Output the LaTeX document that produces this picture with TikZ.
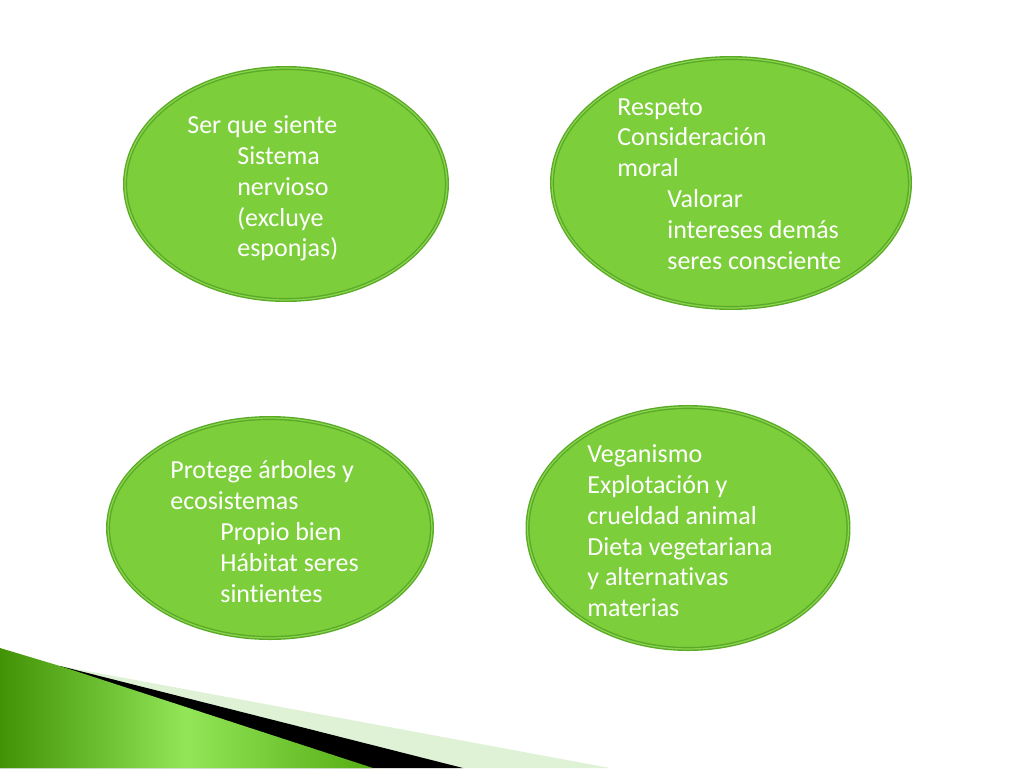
\documentclass[tikz,border=0pt]{standalone}
\usepackage{fontspec}
\setmainfont{Carlito}[Ligatures=NoCommon]
\usetikzlibrary{shapes.geometric}

\definecolor{leafgreen}{RGB}{124,206,58}
\definecolor{rimgreen}{RGB}{90,170,40}
\definecolor{rimlight}{RGB}{138,212,78}
\definecolor{palegreen}{RGB}{224,242,214}
\definecolor{banddark}{RGB}{66,146,6}
\definecolor{bandlight}{RGB}{146,230,88}
\definecolor{bandmid}{RGB}{84,172,18}

\begin{document}
\begin{tikzpicture}[x=0.02cm, y=-0.02cm,
	bubble/.style={ellipse, draw=rimgreen, line width=0.8pt, double=rimlight,
		double distance=0.7pt, fill=leafgreen, inner sep=0pt},
	notes/.style={anchor=north west, align=left, inner sep=0pt, text=white,
		font=\fontsize{14.8}{17.6}\selectfont}]

	\useasboundingbox[fill=white] (0,0) rectangle (1024,768);

	\coordinate (sentient_c) at (286,184);
	\coordinate (respect_c) at (731,183);
	\coordinate (nature_c) at (270,528);
	\coordinate (vegan_c) at (688,528);

	\def\indentStep{1cm}

	% Bottom band
	\fill[palegreen] (60,666) -- (610,768) -- (0,768) -- cycle;
	\fill[black] (60,666) -- (463,768) -- (0,768) -- cycle;
	\shade[left color=banddark, right color=bandmid, middle color=bandlight]
		(0,648) -- (60,666) -- (373,768) -- (0,768) -- cycle;

	% Ellipses
	\node[bubble, minimum width=6.44cm, minimum height=4.64cm] (sentient) at (sentient_c) {};
	\node[bubble, minimum width=7.16cm, minimum height=5.00cm] (respect) at (respect_c) {};
	\node[bubble, minimum width=6.48cm, minimum height=4.40cm] (nature) at (nature_c) {};
	\node[bubble, minimum width=6.42cm, minimum height=4.84cm] (vegan) at (vegan_c) {};

	% Texts
	\node[notes] (sentient_text) at (187,115)
		{Ser que siente\\ \hspace*{\indentStep}Sistema\\ \hspace*{\indentStep}nervioso\\
		\hspace*{\indentStep}(excluye\\ \hspace*{\indentStep}esponjas)};

	\node[notes] (respect_text) at (617,98)
		{Respeto\\ Consideración\\ moral\\ \hspace*{\indentStep}Valorar\\
		\hspace*{\indentStep}intereses demás\\ \hspace*{\indentStep}seres consciente};

	\node[notes] (nature_text) at (170,460)
		{Protege árboles y\\ ecosistemas\\ \hspace*{\indentStep}Propio bien\\
		\hspace*{\indentStep}Hábitat seres\\ \hspace*{\indentStep}sintientes};

	\node[notes] (vegan_text) at (587,444)
		{Veganismo\\ Explotación y\\ crueldad animal\\ Dieta vegetariana\\
		y alternativas\\ materias};

\end{tikzpicture}
\end{document}
